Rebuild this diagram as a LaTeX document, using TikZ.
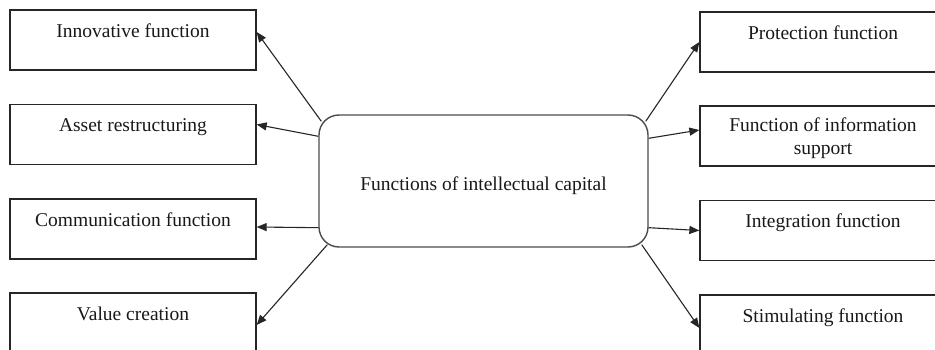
\documentclass[tikz,border=0pt]{standalone}
\usepackage{fontspec}
\setmainfont{Liberation Serif}
\usetikzlibrary{arrows.meta,calc}
\newcommand{\topstrut}{\rule{0pt}{24pt}}
\tikzset{
  fbox/.style={draw=black!85, line width=1.3pt, minimum width=246pt, minimum height=60pt,
    inner sep=0pt, align=center, font=\fontsize{19.5pt}{23pt}\selectfont, text=black!90},
  cbox/.style={draw=black!70, line width=1.4pt, rounded corners=20pt, minimum width=329pt,
    minimum height=132pt, inner sep=0pt, font=\fontsize{19.5pt}{23pt}\selectfont, text=black!90},
  arr/.style={draw=black!85, line width=1.1pt, -{Triangle[length=10pt,width=8pt]}}
}
\begin{document}
\begin{tikzpicture}[x=1pt,y=-1pt]
\clip (0,0) rectangle (935,350);
\fill[white] (0,0) rectangle (935,350);
% left boxes
\node[fbox] (l1) at (133,40) {\topstrut Innovative function\\\strut};
\node[fbox] (l2) at (133,134.5) {\topstrut Asset restructuring\\\strut};
\node[fbox] (l3) at (133,229) {\topstrut Communication function\\\strut};
\node[fbox] (l4) at (133,323) {\topstrut Value creation\\\strut};
% right boxes
\node[fbox] (r1) at (823,42) {\topstrut Protection function\\\strut};
\node[fbox] (r2) at (823,136) {\rule{0pt}{20pt}Function of information\\\strut support};
\node[fbox] (r3) at (823,230.5) {\topstrut Integration function\\\strut};
\node[fbox] (r4) at (823,325) {\topstrut Stimulating function\\\strut};
% centre
\node[cbox] (c) at (483.5,181) {\topstrut Functions of intellectual capital};
% connectors
\draw[arr] ($(c.north west)+(3,7)$) -- ([yshift=8pt]l1.east);
\draw[arr] ($(c.north west)+(0,22)$) -- ([yshift=10pt]l2.east);
\draw[arr] ($(c.south west)+(0,-20)$) -- ([yshift=2pt]l3.east);
\draw[arr] ($(c.south west)+(9,-3)$) -- ([yshift=-2pt]l4.east);
\draw[arr] ($(c.north east)+(-3,7)$) -- (r1.west);
\draw[arr] ($(c.north east)+(0,24)$) -- ([yshift=6pt]r2.west);
\draw[arr] ($(c.south east)+(0,-20)$) -- (r3.west);
\draw[arr] ($(c.south east)+(-7,-3)$) -- ([yshift=-3pt]r4.west);
\end{tikzpicture}
\end{document}
